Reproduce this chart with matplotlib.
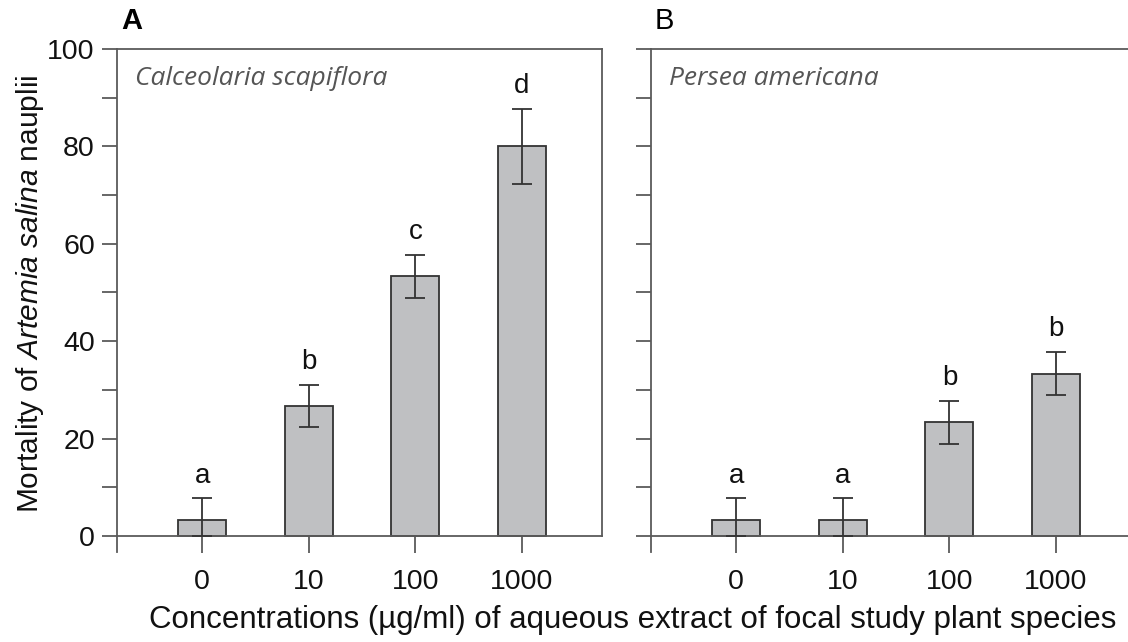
import matplotlib
matplotlib.use("Agg")
import matplotlib.pyplot as plt
from matplotlib.ticker import MultipleLocator

plt.rcParams["font.family"] = ["Liberation Sans", "DejaVu Sans"]
plt.rcParams["mathtext.fontset"] = "custom"
plt.rcParams["mathtext.it"] = "Liberation Sans:italic"
plt.rcParams["mathtext.rm"] = "Liberation Sans"

# data
conc_labels = ["0", "10", "100", "1000"]
mort_calceolaria = [3.33, 26.67, 53.33, 80.0]
err_calceolaria = [4.4, 4.4, 4.4, 7.7]
letters_calceolaria = ["a", "b", "c", "d"]
mort_persea = [3.33, 3.33, 23.33, 33.33]
err_persea = [4.4, 4.4, 4.4, 4.4]
letters_persea = ["a", "a", "b", "b"]

BAR_FILL = "#bfc0c2"
EDGE = "#333333"
AXIS = "#5a5a5a"

fig = plt.figure(figsize=(11.28, 6.42), dpi=100)
W, H = 1128, 642
ax_a = fig.add_axes([117 / W, (H - 552) / H, 485 / W, 503 / H])
ax_b = fig.add_axes([651 / W, (H - 552) / H, 485 / W, 503 / H])


def draw_panel(ax, vals, errs, letters, species, show_ylabels):
    x = list(range(len(vals)))
    lower = [min(v, e) for v, e in zip(vals, errs)]
    ax.bar(x, vals, width=0.45, color=BAR_FILL, edgecolor=EDGE, linewidth=1.3, zorder=2)
    ax.errorbar(x, vals, yerr=[lower, errs], fmt="none", ecolor=EDGE,
                elinewidth=1.3, capsize=7, capthick=1.3, zorder=3)
    for xi, v, e, let in zip(x, vals, errs, letters):
        ax.text(xi, v + e + 2.0, let, ha="center", va="bottom", fontsize=20, color="#111111")

    ax.set_xlim(-0.8, 3.75)
    ax.set_ylim(-3.3, 100)
    ax.spines["bottom"].set_position(("data", 0))
    for sp in ax.spines.values():
        sp.set_color(AXIS)
        sp.set_linewidth(1.3)
    ax.spines["left"].set_bounds(-3.3, 100)
    ax.spines["right"].set_bounds(0, 100)

    ax.set_xticks(x)
    ax.set_xticklabels(conc_labels)
    ax.yaxis.set_major_locator(MultipleLocator(20))
    ax.yaxis.set_minor_locator(MultipleLocator(10))
    ax.tick_params(axis="x", direction="out", length=12, width=1.3, color=AXIS,
                   labelsize=20.5, pad=12, labelcolor="#111111")
    ax.tick_params(axis="y", which="both", direction="out", length=11, width=1.3,
                   color=AXIS, labelsize=20.5, pad=5, labelcolor="#111111")
    if not show_ylabels:
        ax.tick_params(axis="y", which="both", labelleft=False)

    ax.text(0.038, 0.942, species, transform=ax.transAxes, fontsize=19,
            family="Open Sans", style="italic", color="#555555", ha="left", va="center")


draw_panel(ax_a, mort_calceolaria, err_calceolaria, letters_calceolaria,
           "Calceolaria scapiflora", True)
draw_panel(ax_b, mort_persea, err_persea, letters_persea,
           "Persea americana", False)

fig.text(121 / W, (H - 21) / H, "A", fontsize=21, fontweight="bold", va="center", ha="left")
fig.text(655 / W, (H - 21) / H, "B", fontsize=21, va="center", ha="left")

fig.text(30 / W, (H - 294) / H, r"Mortality of $\it{Artemia\ salina}$ nauplii",
         rotation=90, fontsize=21.5, ha="center", va="center", color="#111111")
fig.text(633 / W, (H - 620) / H,
         "Concentrations (\u00b5g/ml) of aqueous extract of focal study plant species",
         fontsize=22.5, ha="center", va="center", color="#111111")

fig.savefig("out.png", dpi=100)
